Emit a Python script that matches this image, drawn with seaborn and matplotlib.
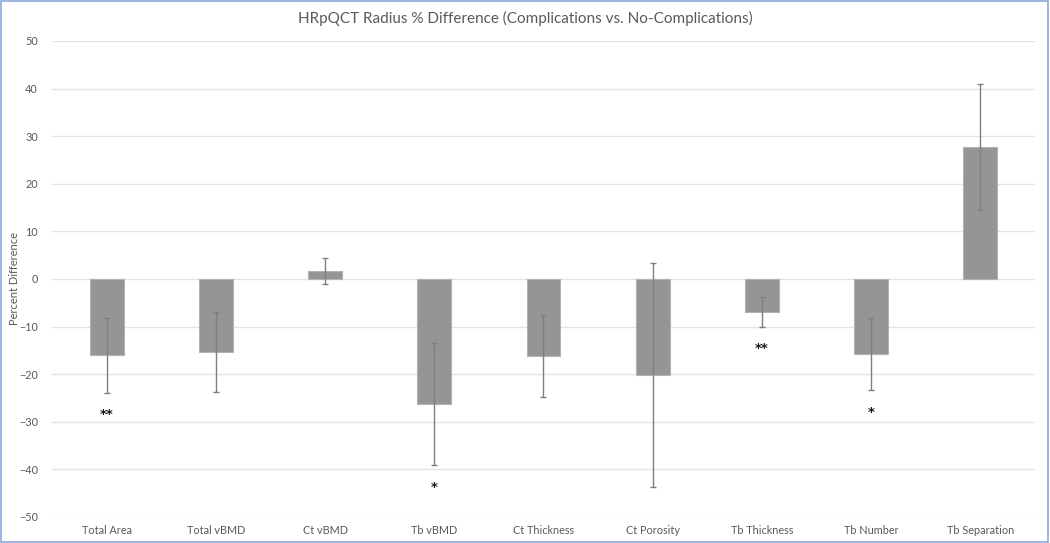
import matplotlib
matplotlib.use("Agg")
import matplotlib.pyplot as plt
from matplotlib.patches import Rectangle
import pandas as pd
import seaborn as sns

categories = ["Total Area", "Total vBMD", "Ct vBMD", "Tb vBMD", "Ct Thickness",
              "Ct Porosity", "Tb Thickness", "Tb Number", "Tb Separation"]
pct_diff = [-16.0, -15.3, 1.7, -26.3, -16.2, -20.2, -6.9, -15.8, 27.7]
err = [7.9, 8.4, 2.8, 12.8, 8.6, 23.5, 3.2, 7.6, 13.3]
stars = ["**", "", "", "*", "", "", "**", "*", ""]

df = pd.DataFrame({"Measure": categories, "Diff": pct_diff, "Err": err, "Sig": stars})

sns.set_theme(style="white")
plt.rcParams["font.family"] = ["Lato", "DejaVu Sans"]
text_color = "#595959"

fig = plt.figure(figsize=(10.5, 5.43), dpi=100)
ax = fig.add_axes([0.0495, 0.0479, 0.9362, 0.8766])

sns.barplot(data=df, x="Measure", y="Diff", color="#959595", saturation=1,
            width=0.31, edgecolor="#b3b3b3", linewidth=0.8, ax=ax, zorder=2)
ax.errorbar(range(len(df)), df["Diff"], yerr=df["Err"], fmt="none",
            ecolor="#7f7f7f", elinewidth=1.0, capsize=2.5, capthick=1.0, zorder=3)

# significance markers below the lower whisker
for i, row in df.iterrows():
    if row["Sig"]:
        ax.text(i, row["Diff"] - row["Err"] - 4.6, row["Sig"], ha="center",
                va="center", fontsize=9.5, fontweight="bold", color="#1a1a1a",
                family=["DejaVu Sans"])

ax.set_ylim(-50, 50)
ax.set_xlim(-0.5, len(df) - 0.5)
ax.set_yticks(range(-50, 51, 10))
ax.yaxis.grid(True, color="#e3e3e3", linewidth=1.0, zorder=0)
ax.set_axisbelow(True)
for s in ax.spines.values():
    s.set_visible(False)
ax.tick_params(axis="both", length=0, labelsize=7.8, labelcolor=text_color)
ax.tick_params(axis="x", pad=6)
ax.tick_params(axis="y", pad=10)
ax.set_xlabel("")
ax.set_ylabel("Percent Difference", fontsize=8, color=text_color)
ax.yaxis.set_label_coords(-0.033, 0.5)
fig.suptitle("HRpQCT Radius % Difference (Complications vs. No-Complications)",
             y=0.98, fontsize=11, color=text_color)

fig.patches.append(Rectangle((0.001, 0.001), 0.997, 0.997, transform=fig.transFigure,
                             fill=False, edgecolor="#8eaadb", linewidth=1.2))

fig.savefig("out.png", dpi=100)
